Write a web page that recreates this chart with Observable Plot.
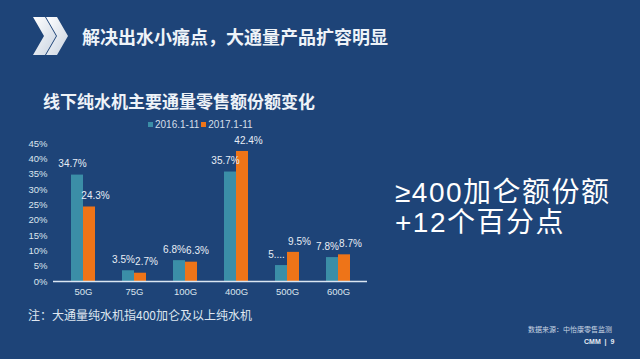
<!DOCTYPE html>
<html>
<head>
<meta charset="utf-8">
<script src="https://cdn.jsdelivr.net/npm/d3@7"></script>
<script src="https://cdn.jsdelivr.net/npm/@observablehq/plot@0.6"></script>
<style>
  html, body { margin: 0; padding: 0; background: #1e4478; }
  #page {
    position: relative; width: 640px; height: 359px; overflow: hidden;
    background: #1e4478;
    font-family: "Noto Sans CJK SC", "Liberation Sans", sans-serif;
    color: #ffffff;
  }
  .abs { position: absolute; white-space: nowrap; }
  #title { left: 82px; top: 23px; font-size: 18px; font-weight: bold; color: #eef3f8; letter-spacing: 0px; }
  #subtitle { left: 43px; top: 88px; font-size: 17px; font-weight: bold; color: #eef3f8; }
  #legend { left: 148px; top: 119px; font-size: 10px; color: #d5dfea; font-family: "Liberation Sans", "Noto Sans CJK SC", sans-serif; }
  #legend span.sw { display: inline-block; width: 5px; height: 5px; margin-right: 2px; vertical-align: middle; position: relative; top: -1px; }
  #legend span.item { margin-right: 2px; }
  #chart { left: 0px; top: 130px; }
  .big { left: 395px; font-size: 28px; letter-spacing: 1.5px; line-height: 30px; height: 30px; color: #ffffff; font-family: "Liberation Sans", "Noto Sans CJK SC", sans-serif; }
  #big1 { top: 178px; }
  #big2 { top: 208px; }
  #note { left: 28px; top: 306px; font-size: 12px; color: #dfe7f0; }
  #source { left: 528px; top: 324px; font-size: 7px; color: #c9d5e3; }
  #cmm { left: 584px; top: 338px; font-size: 7px; font-weight: bold; color: #e4ebf3; font-family: "Liberation Sans", sans-serif; }
</style>
</head>
<body>
<div id="page">
  <svg class="abs" style="left:0;top:0" width="80" height="70">
    <defs>
      <linearGradient id="chev" x1="0" y1="0" x2="1" y2="1">
        <stop offset="0" stop-color="#ffffff"/>
        <stop offset="1" stop-color="#c9d3e0"/>
      </linearGradient>
    </defs>
    <polygon points="33,17 45,17 56,36 45,55 33,55 44,36" fill="url(#chev)"/>
    <polygon points="46,17 57,17 68,36 57,55 46,55 57,36" fill="url(#chev)"/>
  </svg>
  <div id="title" class="abs">解决出水小痛点，大通量产品扩容明显</div>
  <div id="subtitle" class="abs">线下纯水机主要通量零售额份额变化</div>
  <div id="legend" class="abs"></div>
  <div id="chart" class="abs"></div>
  <div id="big1" class="abs big">≥400加仑额份额</div>
  <div id="big2" class="abs big">+12个百分点</div>
  <div id="note" class="abs">注：大通量纯水机指400加仑及以上纯水机</div>
  <div id="source" class="abs">数据来源：中怡康零售监测</div>
  <div id="cmm" class="abs">CMM &nbsp;|&nbsp; 9</div>
</div>
<script>
const categories = ["50G", "75G", "100G", "400G", "500G", "600G"];
const seriesNames = ["2016.1-11", "2017.1-11"];
const seriesColors = ["#3b8ea7", "#ee7418"];
const share2016 = [34.7, 3.5, 6.8, 35.7, 5.2, 7.8];
const share2017 = [24.3, 2.7, 6.3, 42.4, 9.5, 8.7];
const labels2016 = ["34.7%", "3.5%", "6.8%", "35.7%", "5....", "7.8%"];
const labels2017 = ["24.3%", "2.7%", "6.3%", "42.4%", "9.5%", "8.7%"];
const yTicks = [0, 5, 10, 15, 20, 25, 30, 35, 40, 45];

const table = categories.map((c, i) => ({
  cat: c,
  v2016: share2016[i],
  v2017: share2017[i],
  l2016: labels2016[i],
  l2017: labels2017[i]
}));

// legend
const legend = document.getElementById("legend");
seriesNames.forEach((name, i) => {
  const item = document.createElement("span");
  item.className = "item";
  const sw = document.createElement("span");
  sw.className = "sw";
  sw.style.background = seriesColors[i];
  item.appendChild(sw);
  item.appendChild(document.createTextNode(name));
  legend.appendChild(item);
});

const chart = Plot.plot({
  width: 380,
  height: 176,
  marginLeft: 53,
  marginRight: 13,
  marginTop: 13,
  marginBottom: 25,
  style: {
    background: "transparent",
    color: "#dce4ee",
    fontSize: "9.5px",
    fontFamily: "'Liberation Sans', 'Noto Sans CJK SC', sans-serif",
    overflow: "visible"
  },
  x: {
    domain: categories,
    paddingInner: 0.537,
    paddingOuter: 0.30,
    tickSize: 0,
    tickPadding: 7,
    label: null
  },
  y: {
    domain: [0, 45],
    ticks: yTicks,
    tickFormat: d => d + "%",
    tickSize: 0,
    tickPadding: 6,
    label: null
  },
  marks: [
    Plot.barY(table, { x: "cat", y: "v2016", fill: seriesColors[0], insetRight: 12 }),
    Plot.barY(table, { x: "cat", y: "v2017", fill: seriesColors[1], insetLeft: 12 }),
    Plot.ruleY([0], { stroke: "#dbe6f2", strokeWidth: 1.5 }),
    Plot.text(table, { x: "cat", y: "v2016", text: "l2016", dx: -11, dy: -11, fill: "#e8eef5", fontSize: 10 }),
    Plot.text(table, { x: "cat", y: "v2017", text: "l2017", dx: 12, dy: -11, fill: "#e8eef5", fontSize: 10 })
  ]
});
document.getElementById("chart").appendChild(chart);
</script>
</body>
</html>
